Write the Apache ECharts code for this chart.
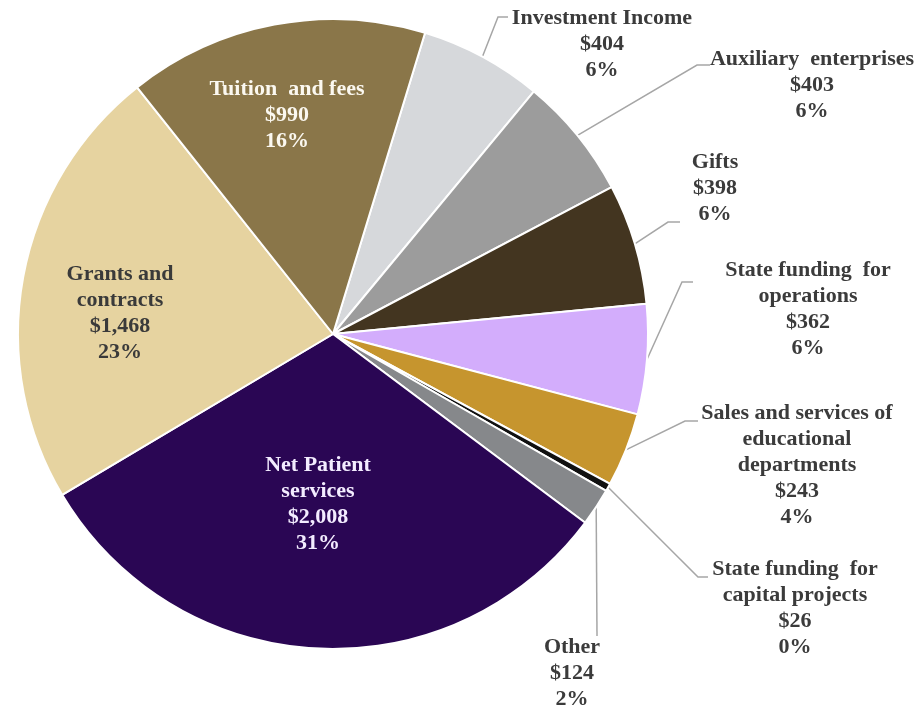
<!DOCTYPE html>
<html>
<head>
<meta charset="utf-8">
<title>Revenue sources</title>
<script src="https://cdn.jsdelivr.net/npm/echarts@6/dist/echarts.min.js"></script>
<style>
  html, body { margin: 0; padding: 0; background: #ffffff; }
  #chart { width: 921px; height: 710px; }
</style>
</head>
<body>
<div id="chart"></div>
<script>
// Revenue by source ($ millions), listed clockwise from Investment Income
const categories = [
  'Investment Income',
  'Auxiliary  enterprises',
  'Gifts',
  'State funding  for\noperations',
  'Sales and services of\neducational\ndepartments',
  'State funding  for\ncapital projects',
  'Other',
  'Net Patient\nservices',
  'Grants and\ncontracts',
  'Tuition  and fees'
];
const amounts = [404, 403, 398, 362, 243, 26, 124, 2008, 1468, 990];
const shareLabels = ['6%', '6%', '6%', '6%', '4%', '0%', '2%', '31%', '23%', '16%'];

const sliceColors = [
  '#d6d8db', '#9c9c9c', '#433520', '#d3adfc', '#c6952e',
  '#111111', '#86888b', '#2a0654', '#e6d3a0', '#8a7649'
];

// Label placement: anchor (centre of text block) and elbow of the leader line
const labelPlacement = [
  { x: 602, y: 44,  elbow: [[498, 17], [508, 17]] },
  { x: 812, y: 85,  elbow: [[697, 65], [710, 65]] },
  { x: 715, y: 188, elbow: [[668, 222], [680, 222]] },
  { x: 808, y: 309, elbow: [[682, 282], [693, 282]] },
  { x: 797, y: 465, elbow: [[685, 421], [698, 421]] },
  { x: 795, y: 608, elbow: [[698, 577], [708, 577]] },
  { x: 572, y: 673, elbow: [[597, 636], [597, 636]] },
  { x: 318, y: 504, inside: true, color: '#f3ecff' },
  { x: 120, y: 313, inside: true, color: '#3a3a3a' },
  { x: 287, y: 115, inside: true, color: '#fbf8f0' }
];

function money(v) {
  return '$' + v.toLocaleString('en-US');
}

const chart = echarts.init(document.getElementById('chart'), null, { renderer: 'canvas' });

const seriesData = categories.map(function (name, i) {
  const p = labelPlacement[i];
  const item = {
    name: name,
    value: amounts[i],
    itemStyle: { color: sliceColors[i] }
  };
  if (p.inside) {
    item.label = { position: 'inside', color: p.color };
    item.labelLine = { show: false };
  }
  return item;
});

chart.setOption({
  animation: false,
  backgroundColor: '#ffffff',
  series: [{
    type: 'pie',
    center: [333, 334],
    radius: 315,
    startAngle: 73,
    clockwise: true,
    avoidLabelOverlap: false,
    itemStyle: { borderColor: '#ffffff', borderWidth: 2 },
    label: {
      show: true,
      position: 'outside',
      fontFamily: '"Liberation Serif", "Times New Roman", serif',
      fontWeight: 'bold',
      fontSize: 22,
      lineHeight: 26,
      color: '#3b3b3b',
      align: 'center',
      formatter: function (params) {
        return params.name + '\n' + money(params.value) + '\n' + shareLabels[params.dataIndex];
      }
    },
    labelLine: {
      show: true,
      length: 20,
      length2: 10,
      smooth: false,
      lineStyle: { color: '#a6a6a6', width: 1.5 }
    },
    labelLayout: function (params) {
      const p = labelPlacement[params.dataIndex];
      const out = { x: p.x, y: p.y, align: 'center', verticalAlign: 'middle' };
      if (!p.inside && params.labelLinePoints) {
        out.labelLinePoints = [params.labelLinePoints[0], p.elbow[0], p.elbow[1]];
      }
      return out;
    },
    data: seriesData
  }]
});
</script>
</body>
</html>
